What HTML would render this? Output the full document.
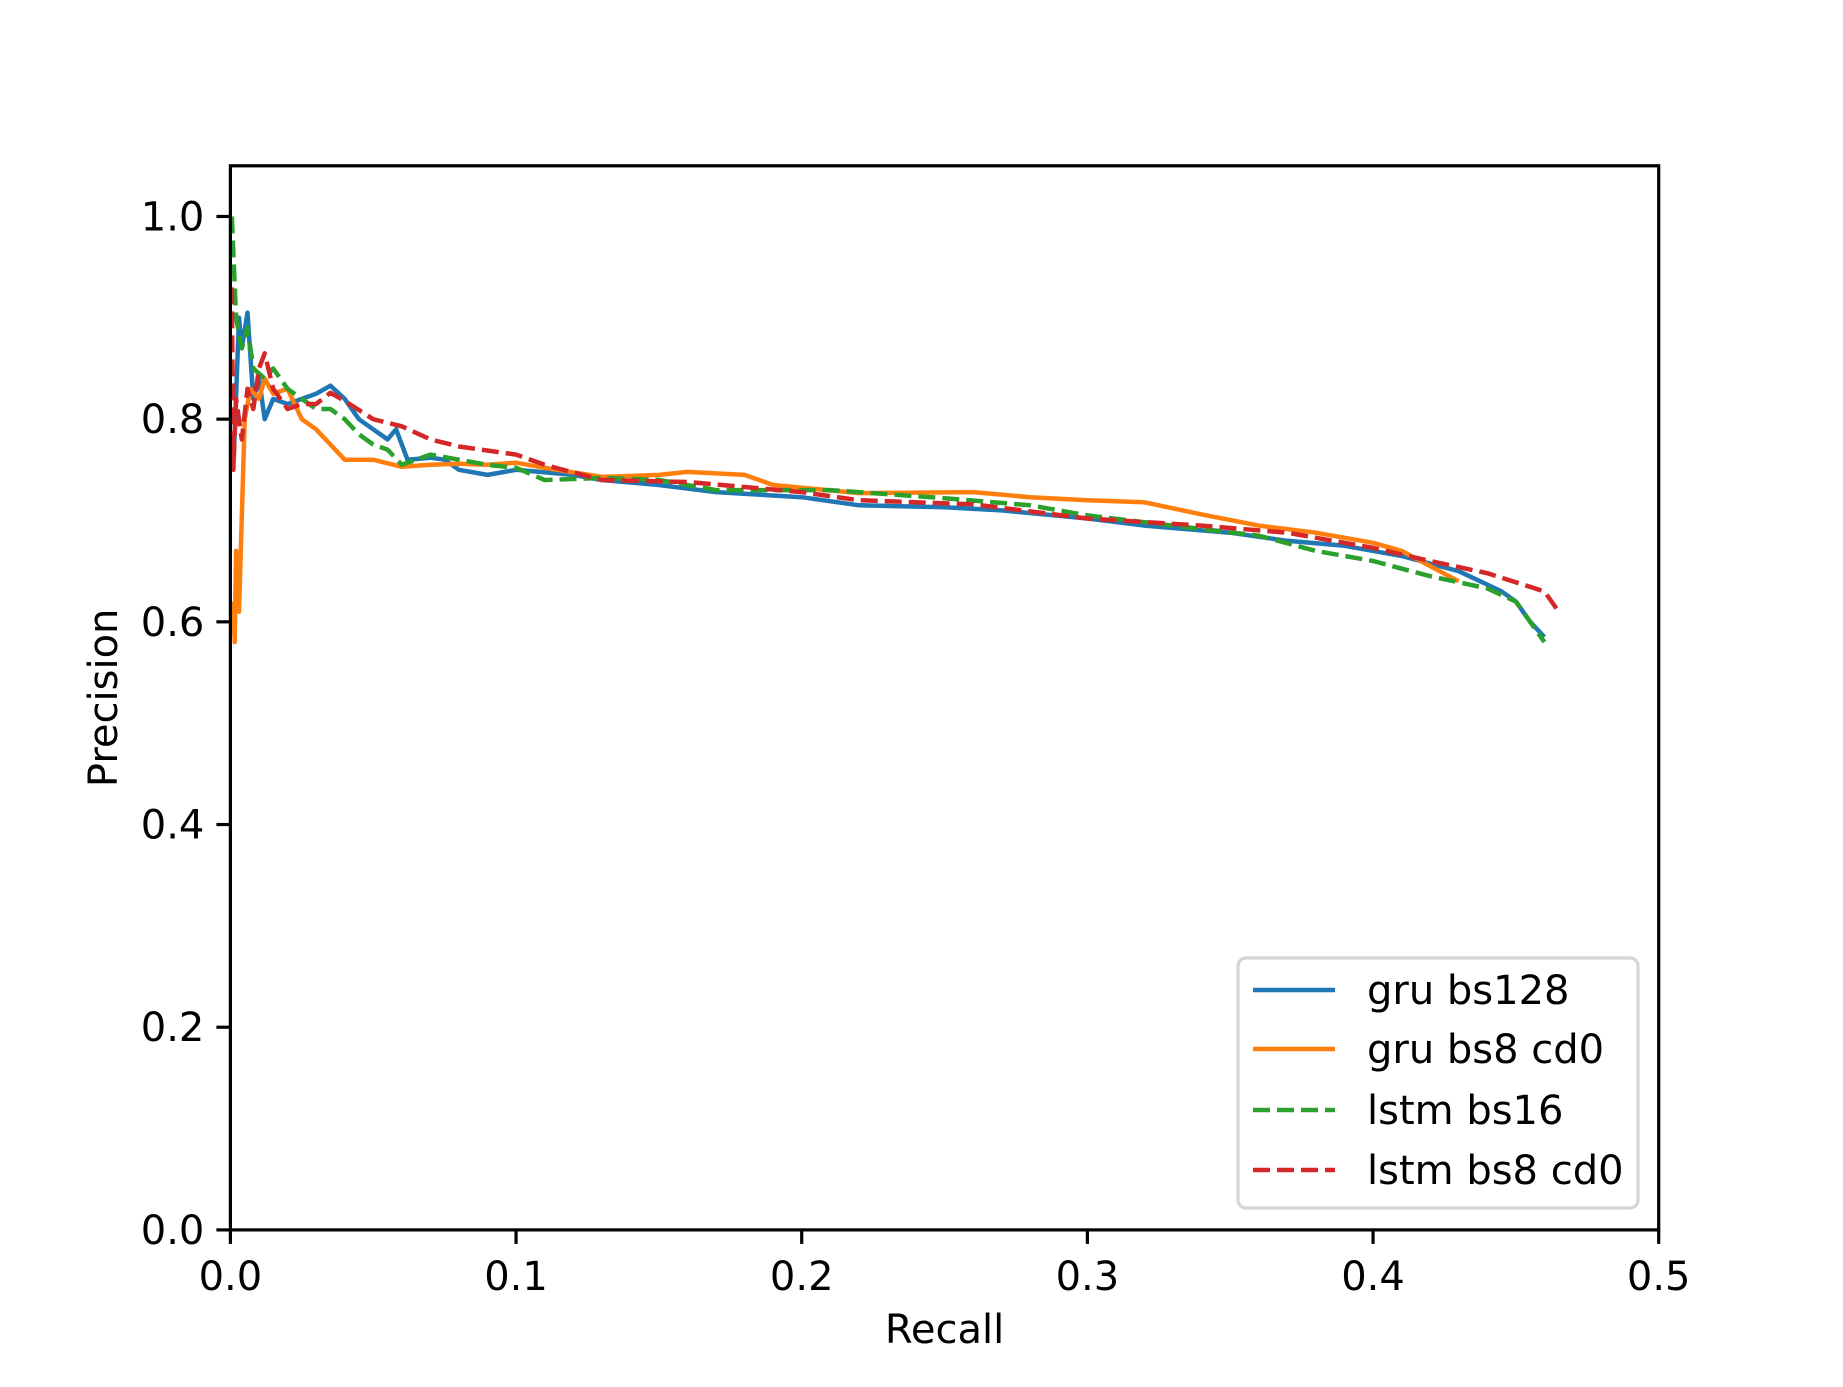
<!DOCTYPE html>
<html><head><meta charset="utf-8"><style>
html,body{margin:0;padding:0;background:#fff}
svg text{font-family:"DejaVu Sans","Liberation Sans",sans-serif;fill:#000}
</style></head><body>
<svg id="chart" width="1843" height="1382" viewBox="0 0 1843 1382" xmlns="http://www.w3.org/2000/svg">
<rect width="1843" height="1382" fill="#fff"/>
<g id="plot"></g>
</svg>
<script>
const xTicks = [0.0, 0.1, 0.2, 0.3, 0.4, 0.5];
const yTicks = [0.0, 0.2, 0.4, 0.6, 0.8, 1.0];
const seriesNames = ["gru bs128", "gru bs8 cd0", "lstm bs16", "lstm bs8 cd0"];
const gruBs128X = [0.001,0.003,0.004,0.006,0.008,0.01,0.012,0.015,0.02,0.025,0.03,0.035,0.04,0.045,0.05,0.055,0.058,0.062,0.07,0.075,0.08,0.09,0.1,0.12,0.13,0.15,0.17,0.2,0.22,0.25,0.27,0.3,0.32,0.35,0.37,0.39,0.41,0.43,0.445,0.45,0.455,0.46];
const gruBs128Y = [0.75,0.90,0.87,0.905,0.82,0.84,0.80,0.82,0.815,0.82,0.825,0.833,0.82,0.80,0.79,0.78,0.79,0.76,0.762,0.76,0.75,0.745,0.75,0.745,0.74,0.735,0.728,0.723,0.715,0.713,0.71,0.702,0.695,0.688,0.68,0.675,0.665,0.65,0.63,0.62,0.60,0.585];
const gruBs8X = [0.001,0.0015,0.002,0.003,0.005,0.007,0.01,0.012,0.015,0.02,0.025,0.03,0.035,0.04,0.05,0.06,0.07,0.08,0.09,0.1,0.11,0.13,0.15,0.16,0.18,0.19,0.22,0.26,0.28,0.3,0.32,0.34,0.36,0.38,0.4,0.41,0.42,0.43];
const gruBs8Y = [0.62,0.58,0.67,0.61,0.80,0.83,0.82,0.84,0.825,0.83,0.80,0.79,0.775,0.76,0.76,0.753,0.755,0.756,0.755,0.757,0.752,0.743,0.745,0.748,0.745,0.735,0.727,0.728,0.723,0.72,0.718,0.706,0.695,0.688,0.678,0.67,0.655,0.64];
const lstmBs16X = [0.0005,0.002,0.004,0.006,0.008,0.012,0.015,0.02,0.03,0.035,0.04,0.045,0.05,0.055,0.06,0.07,0.08,0.09,0.1,0.11,0.13,0.15,0.17,0.2,0.21,0.25,0.28,0.3,0.33,0.36,0.38,0.4,0.42,0.44,0.45,0.46];
const lstmBs16Y = [1.0,0.90,0.87,0.89,0.85,0.84,0.85,0.83,0.81,0.81,0.80,0.785,0.775,0.77,0.755,0.765,0.76,0.755,0.752,0.74,0.742,0.74,0.73,0.73,0.73,0.722,0.715,0.705,0.695,0.685,0.67,0.66,0.645,0.633,0.62,0.58];
const lstmBs8X = [0.0005,0.001,0.002,0.004,0.006,0.008,0.01,0.012,0.015,0.02,0.025,0.03,0.035,0.04,0.05,0.06,0.07,0.08,0.1,0.11,0.13,0.16,0.2,0.22,0.26,0.3,0.34,0.37,0.4,0.42,0.44,0.46,0.465];
const lstmBs8Y = [0.93,0.75,0.82,0.78,0.83,0.81,0.85,0.865,0.83,0.81,0.815,0.815,0.826,0.818,0.80,0.793,0.78,0.773,0.765,0.755,0.74,0.738,0.728,0.72,0.716,0.702,0.695,0.688,0.673,0.66,0.648,0.63,0.61];

const colors = ["#1f77b4","#ff7f0e","#2ca02c","#d62728"];
const dashes = [null,null,"17,7","17,7"];
const L=230.4, R=1658.7, T=165.8, B=1229.9;
const xMin=0, xMax=0.5, yMin=0, yMax=1.05;
const sx = v => L + (v - xMin) / (xMax - xMin) * (R - L);
const sy = v => B - (v - yMin) / (yMax - yMin) * (B - T);
const NS="http://www.w3.org/2000/svg";
const plot=document.getElementById('plot');
function mk(tag, attrs, parent){const e=document.createElementNS(NS,tag);for(const k in attrs)e.setAttribute(k,attrs[k]);(parent||plot).appendChild(e);return e;}

const clip=mk('clipPath',{id:'clip'});mk('rect',{x:L,y:T,width:R-L,height:B-T},clip);

const xs=[gruBs128X,gruBs8X,lstmBs16X,lstmBs8X], ys=[gruBs128Y,gruBs8Y,lstmBs16Y,lstmBs8Y];
const slugs=["gru-bs128","gru-bs8-cd0","lstm-bs16","lstm-bs8-cd0"];
for(let s=0;s<4;s++){
  const d=xs[s].map((x,i)=>(i?'L':'M')+sx(x).toFixed(1)+','+sy(ys[s][i]).toFixed(1)).join(' ');
  const p=mk('path',{d:d,fill:'none',stroke:colors[s],'stroke-width':4.5,'stroke-linejoin':'round','clip-path':'url(#clip)'});
  if(dashes[s])p.setAttribute('stroke-dasharray',dashes[s]);
  
  
}

const frame=mk('rect',{x:L,y:T,width:R-L,height:B-T,fill:'none',stroke:'#000','stroke-width':3.2});



xTicks.forEach(v=>{
  const t=mk('line',{x1:sx(v),x2:sx(v),y1:B,y2:B+14,stroke:'#000','stroke-width':3.2});
  
  
  const tx=mk('text',{x:sx(v),y:B+60,'font-size':40,'text-anchor':'middle'});
  tx.textContent=v.toFixed(1);
  
  
});
yTicks.forEach(v=>{
  const t=mk('line',{x1:L-14,x2:L,y1:sy(v),y2:sy(v),stroke:'#000','stroke-width':3.2});
  
  
  const tx=mk('text',{x:L-26,y:sy(v)+14,'font-size':40,'text-anchor':'end'});
  tx.textContent=v.toFixed(1);
  
  
});
const xl=mk('text',{x:(L+R)/2,y:1343,'font-size':40,'text-anchor':'middle'});xl.textContent='Recall';


const yl=mk('text',{x:0,y:0,'font-size':40,'text-anchor':'middle',transform:'translate(117,'+((T+B)/2)+') rotate(-90)'});yl.textContent='Precision';



const lg=mk('g',{});


mk('rect',{x:1238,y:958,width:400,height:250,rx:8,fill:'#fff','fill-opacity':0.8,stroke:'#d5d5d5','stroke-width':3.2},lg);
const rowY=[990,1049,1110,1170];
for(let s=0;s<4;s++){
  const e=mk('g',{},lg);
  
  
  const ln=mk('line',{x1:1253,x2:1335,y1:rowY[s],y2:rowY[s],stroke:colors[s],'stroke-width':4.5},e);
  if(dashes[s])ln.setAttribute('stroke-dasharray',dashes[s]);
  const tx=mk('text',{x:1367,y:rowY[s]+14,'font-size':40},e);tx.textContent=seriesNames[s];
}
</script>
</body></html>
